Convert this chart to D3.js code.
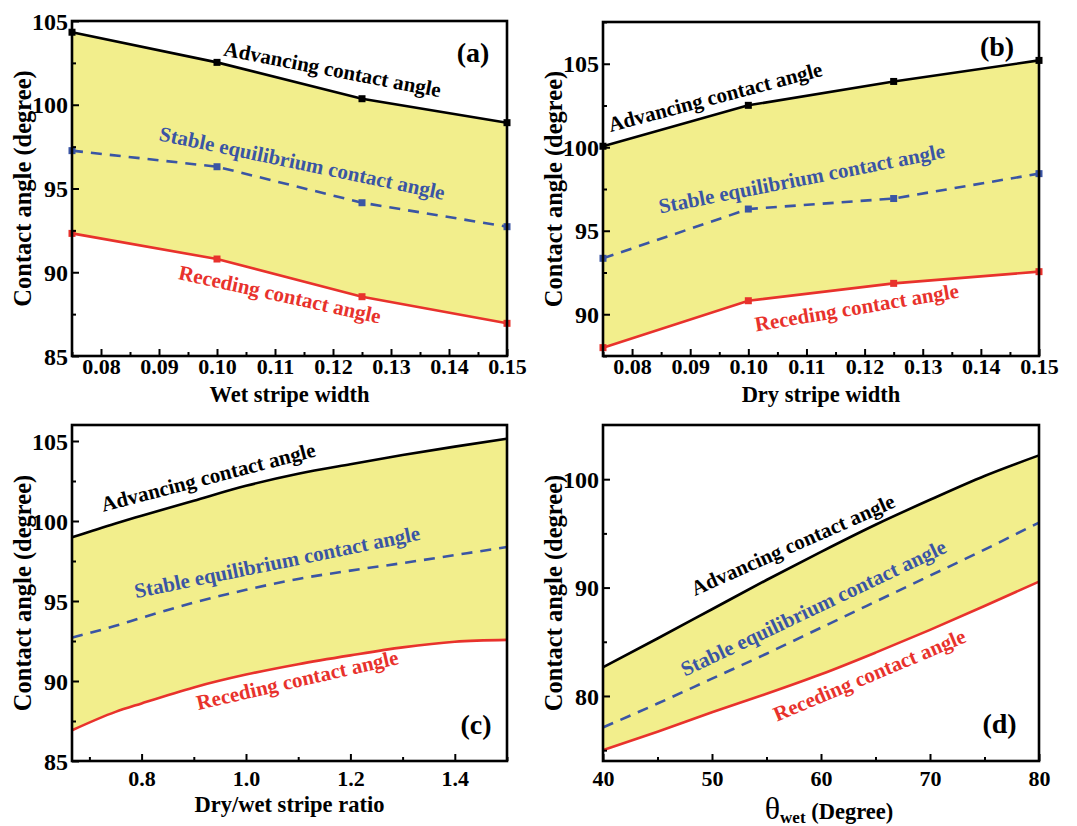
<!DOCTYPE html>
<html><head><meta charset="utf-8">
<script src="https://cdn.jsdelivr.net/npm/d3@7"></script>
<style>
body{margin:0;background:#fff;}
svg{display:block;}
text{font-family:"Liberation Serif","Times New Roman",serif;font-weight:bold;}
</style></head>
<body>
<script>
// ---------- DATA ----------
// Panel (a): wet stripe width
const aX   = [0.075, 0.10, 0.125, 0.15];
const aAdv = [104.33, 102.53, 100.36, 98.93];
const aStb = [97.26, 96.30, 94.15, 92.72];
const aRec = [92.32, 90.79, 88.54, 86.95];
// Panel (b): dry stripe width
const bX   = [0.075, 0.10, 0.125, 0.15];
const bAdv = [100.06, 102.51, 103.94, 105.20];
const bStb = [93.35, 96.30, 96.93, 98.42];
const bRec = [88.00, 90.81, 91.85, 92.55];
// Panel (c): dry/wet stripe ratio
const cX   = [0.6667, 0.75, 0.8, 0.9, 1.0, 1.1, 1.2, 1.3, 1.4, 1.5];
const cAdv = [98.98, 99.85, 100.33, 101.27, 102.20, 102.95, 103.55, 104.12, 104.65, 105.15];
const cStb = [92.71, 93.45, 93.95, 94.90, 95.70, 96.38, 96.90, 97.37, 97.87, 98.37];
const cRec = [86.92, 88.07, 88.60, 89.60, 90.40, 91.05, 91.60, 92.10, 92.45, 92.57];
// Panel (d): theta_wet
const dX   = [40, 45, 50, 55, 60, 65, 70, 75, 80];
const dAdv = [82.65, 85.30, 88.00, 90.70, 93.30, 95.80, 98.10, 100.30, 102.20];
const dStb = [77.10, 79.30, 81.60, 83.90, 86.30, 88.70, 91.10, 93.50, 96.00];
const dRec = [75.00, 76.70, 78.50, 80.20, 82.00, 84.00, 86.10, 88.30, 90.55];

// tick values
const abXTicks = [0.08, 0.09, 0.10, 0.11, 0.12, 0.13, 0.14, 0.15];
const abXMinor = [0.075, 0.085, 0.095, 0.105, 0.115, 0.125, 0.135, 0.145];
const aYTicks = [85, 90, 95, 100, 105];
const aYMinor = [87.5, 92.5, 97.5, 102.5];
const bYTicks = [90, 95, 100, 105];
const bYMinor = [87.5, 92.5, 97.5, 102.5, 107.5];
const cXTicks = [0.8, 1.0, 1.2, 1.4];
const cXMinor = [0.7, 0.9, 1.1, 1.3, 1.5];
const cYTicks = [85, 90, 95, 100, 105];
const cYMinor = [87.5, 92.5, 97.5, 102.5];
const dXTicks = [40, 50, 60, 70, 80];
const dXMinor = [45, 55, 65, 75];
const dYTicks = [80, 90, 100];
const dYMinor = [75, 85, 95];

const seriesNames = ["Advancing contact angle", "Stable equilibrium contact angle", "Receding contact angle"];
// label baseline-start anchors in data units [x, y, rotation deg]
const aLab = [[0.1010, 102.94, 10.9], [0.08988, 97.88, 11.8], [0.09319, 89.60, 12.5]];
const bLab = [[0.07627, 100.92, -14.8], [0.08486, 96.03, -11.1], [0.10132, 88.97, -9.5]];
const cLab = [[0.7267, 100.58, -14.6], [0.7893, 95.17, -11.6], [0.9086, 88.19, -12.9]];
const dLab = [[48.44, 89.23, -23.9], [47.52, 81.78, -25.4], [55.96, 77.63, -22.8]];
// panel tag anchors (centre x, baseline y) in data units
const aTag = [0.14414, 102.55], bTag = [0.14278, 105.46], cTag = [1.4406, 86.66], dTag = [76.38, 76.59];

// ---------- STYLE / LAYOUT ----------
const W = 1077, H = 826;
const colAdv = "#000000", colStb = "#3a55a4", colRec = "#e8322c", colFill = "#f2ee8c";
const svg = d3.select("body").append("svg").attr("width", W).attr("height", H);

const panels = [
  {box:[72,507,21,356], xd:[0.075,0.15], yd:[85,105], x:aX, adv:aAdv, stb:aStb, rec:aRec,
   xt:abXTicks, xm:abXMinor, yt:aYTicks, ym:aYMinor, xfmt:d3.format(".2f"), lab:aLab, tag:aTag, tagText:"(a)",
   markers:true, curve:d3.curveLinear, xTitle:"Wet stripe width", xTickDy:18, xTitleY:402},
  {box:[603,1039,22,356], xd:[0.075,0.15], yd:[87.5,107.5], x:bX, adv:bAdv, stb:bStb, rec:bRec,
   xt:abXTicks, xm:abXMinor, yt:bYTicks, ym:bYMinor, xfmt:d3.format(".2f"), lab:bLab, tag:bTag, tagText:"(b)",
   markers:true, curve:d3.curveLinear, xTitle:"Dry stripe width", xTickDy:18, xTitleY:402},
  {box:[72,507,425,761], xd:[2/3,1.5], yd:[85,106], x:cX, adv:cAdv, stb:cStb, rec:cRec,
   xt:cXTicks, xm:cXMinor, yt:cYTicks, ym:cYMinor, xfmt:d3.format(".1f"), lab:cLab, tag:cTag, tagText:"(c)",
   markers:false, curve:d3.curveMonotoneX, xTitle:"Dry/wet stripe ratio", xTickDy:25, xTitleY:812},
  {box:[603,1039,425,761], xd:[40,80], yd:[74,105], x:dX, adv:dAdv, stb:dStb, rec:dRec,
   xt:dXTicks, xm:dXMinor, yt:dYTicks, ym:dYMinor, xfmt:d3.format("d"), lab:dLab, tag:dTag, tagText:"(d)",
   markers:false, curve:d3.curveMonotoneX, xTitle:null, xTickDy:25, xTitleY:819}
];

panels.forEach((p, pi) => {
  const [L, R, T, B] = p.box;
  const xs = d3.scaleLinear().domain(p.xd).range([L, R]);
  const ys = d3.scaleLinear().domain(p.yd).range([B, T]);
  const g = svg.append("g");
  const pts = p.x.map((xv, i) => ({x: xv, adv: p.adv[i], stb: p.stb[i], rec: p.rec[i]}));

  // fill
  g.append("path").datum(pts)
    .attr("d", d3.area().curve(p.curve).x(d => xs(d.x)).y0(d => ys(d.rec)).y1(d => ys(d.adv)))
    .attr("fill", colFill);

  const mk = key => d3.line().curve(p.curve).x(d => xs(d.x)).y(d => ys(d[key]));
  g.append("path").datum(pts).attr("d", mk("rec")).attr("fill", "none").attr("stroke", colRec).attr("stroke-width", 2.6);
  g.append("path").datum(pts).attr("d", mk("stb")).attr("fill", "none").attr("stroke", colStb).attr("stroke-width", 2.6)
    .attr("stroke-dasharray", "11,8");
  g.append("path").datum(pts).attr("d", mk("adv")).attr("fill", "none").attr("stroke", colAdv).attr("stroke-width", 2.6);

  if (p.markers) {
    [["adv", colAdv], ["stb", colStb], ["rec", colRec]].forEach(([k, c]) => {
      g.selectAll(null).data(pts).enter().append("rect")
        .attr("x", d => xs(d.x) - 3.5).attr("y", d => ys(d[k]) - 3.5)
        .attr("width", 7).attr("height", 7).attr("fill", c);
    });
  }

  // axes (ticks inward)
  const axB = d3.axisBottom(xs).tickValues(p.xt).tickSize(-7).tickFormat(p.xfmt).tickPadding(0);
  const axBm = d3.axisBottom(xs).tickValues(p.xm).tickSize(-4).tickFormat("");
  const axL = d3.axisLeft(ys).tickValues(p.yt).tickSize(-7).tickFormat(d3.format("d")).tickPadding(4);
  const axLm = d3.axisLeft(ys).tickValues(p.ym).tickSize(-4).tickFormat("");
  const gx = g.append("g").attr("transform", `translate(0,${B})`).call(axB);
  g.append("g").attr("transform", `translate(0,${B})`).call(axBm);
  const gy = g.append("g").attr("transform", `translate(${L},0)`).call(axL);
  g.append("g").attr("transform", `translate(${L},0)`).call(axLm);
  g.selectAll(".domain").remove();
  g.selectAll(".tick line").attr("stroke", "#000").attr("stroke-width", 2);
  gx.selectAll(".tick text").attr("y", p.xTickDy).attr("dy", null)
    .attr("font-size", 22).attr("fill", "#000");
  gy.selectAll(".tick text").attr("font-size", 24).attr("fill", "#000").attr("dy", "0.34em");

  // frame
  g.append("rect").attr("x", L).attr("y", T).attr("width", R - L).attr("height", B - T)
    .attr("fill", "none").attr("stroke", "#000").attr("stroke-width", 2.6);

  // series labels
  const cols = [colAdv, colStb, colRec];
  p.lab.forEach((lb, i) => {
    const cx = xs(lb[0]), cy = ys(lb[1]);
    g.append("text").attr("transform", `translate(${cx},${cy}) rotate(${lb[2]})`)
      .attr("text-anchor", "start")
      .attr("font-size", 21).attr("fill", cols[i]).text(seriesNames[i]);
  });
  // panel tag
  g.append("text").attr("x", xs(p.tag[0])).attr("y", ys(p.tag[1]))
    .attr("text-anchor", "middle").attr("font-size", 28).attr("fill", "#000").text(p.tagText);

  // y title
  g.append("text").attr("transform", `translate(${L - 50},${(T + B) / 2}) rotate(-90)`)
    .attr("text-anchor", "middle").attr("dy", "0.35em").attr("font-size", 24.5).attr("fill", "#000")
    .text("Contact angle (degree)");

  // x title
  if (p.xTitle) {
    g.append("text").attr("x", (L + R) / 2).attr("y", p.xTitleY).attr("text-anchor", "middle")
      .attr("font-size", 22.5).attr("fill", "#000").text(p.xTitle);
  } else {
    const t = g.append("text").attr("x", (L + R) / 2 + 8).attr("y", p.xTitleY).attr("text-anchor", "middle").attr("fill", "#000");
    t.append("tspan").attr("font-size", 32).attr("font-weight", "normal").text("θ");
    t.append("tspan").attr("font-size", 17).attr("dy", 4).text("wet");
    t.append("tspan").attr("font-size", 22.5).attr("dy", -4).text(" (Degree)");
  }
});
</script>
</body></html>
